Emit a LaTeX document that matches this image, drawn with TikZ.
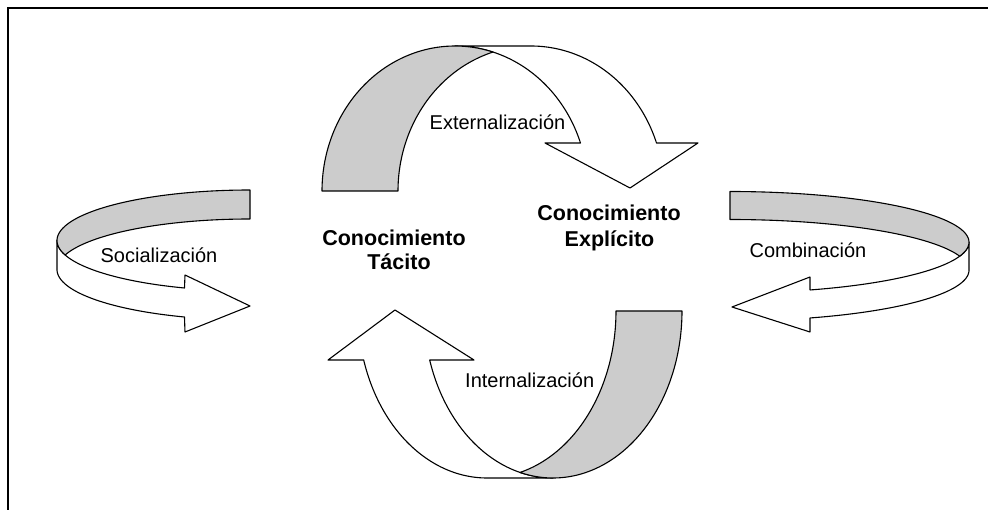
\documentclass[tikz,border=0pt]{standalone}
\usepackage{fontspec}
\setmainfont{Liberation Sans}
\definecolor{ribgray}{RGB}{204,204,204}
\tikzset{
  rib/.style={draw=black, line width=1.1pt, line join=round},
  back/.style={rib, fill=ribgray},
  front/.style={rib, fill=white},
  lbl/.style={font=\fontsize{20}{24}\selectfont, inner sep=0pt, anchor=base},
  bld/.style={font=\bfseries\fontsize{21.5}{24}\selectfont, inner sep=0pt, anchor=base},
  frame/.style={draw=black, line width=2pt},
}
\begin{document}
\begin{tikzpicture}[x=1pt, y=-1pt]
\useasboundingbox (0,0) rectangle (988,510);
% frame
\coordinate (fr1) at (988,8);
\coordinate (fr2) at (8,8);
\coordinate (fr3) at (8,510);
\draw[frame] (fr1) -- (fr2) -- (fr3);

% top ribbon: Externalizacion
\draw[front] (630,188) -- (545,143) -- (580.5,143)
  -- plot[domain=340.67:270, samples=60, variable=\t] ({455+133*cos(\t)},{191+145*sin(\t)})
  -- (531,46)
  -- plot[domain=270:340.67, samples=60, variable=\t] ({531+133*cos(\t)},{191+145*sin(\t)})
  -- (698,143) -- cycle;
\draw[back] plot[domain=180:286.6, samples=80, variable=\t] ({455+133*cos(\t)},{191+145*sin(\t)})
  -- plot[domain=253.4:180, samples=60, variable=\t] ({531+133*cos(\t)},{191+145*sin(\t)}) -- cycle;

% bottom ribbon: Internalizacion
\draw[front] (395,310) -- (474,360) -- (429.7,360)
  -- plot[domain=162.94:90, samples=60, variable=\t] ({553+129*cos(\t)},{311+167*sin(\t)})
  -- (487,478)
  -- plot[domain=90:162.94, samples=60, variable=\t] ({487+129*cos(\t)},{311+167*sin(\t)})
  -- (328,360) -- cycle;
\draw[back] plot[domain=0:104.82, samples=80, variable=\t] ({553+129*cos(\t)},{311+167*sin(\t)})
  -- plot[domain=75.18:0, samples=60, variable=\t] ({487+129*cos(\t)},{311+167*sin(\t)}) -- cycle;

% left ribbon: Socializacion
\draw[front] (250,306) -- (185,275) -- (184.5,288)
  -- plot[domain=109.85:180, samples=60, variable=\t] ({250+193*cos(\t)},{240.5+50.5*sin(\t)})
  -- (57,269.5)
  -- plot[domain=180:109.85, samples=60, variable=\t] ({250+193*cos(\t)},{269.5+50.5*sin(\t)})
  -- (185,332) -- cycle;
\draw[back] plot[domain=270:163.31, samples=80, variable=\t] ({250+193*cos(\t)},{240.5+50.5*sin(\t)})
  -- plot[domain=196.69:270, samples=60, variable=\t] ({250+193*cos(\t)},{269.5+50.5*sin(\t)}) -- cycle;

% right ribbon: Combinacion
\draw[front] (732,307) -- (810,277) -- (810,290)
  -- plot[domain=70.45:0, samples=60, variable=\t] ({730+239*cos(\t)},{242.2+50.7*sin(\t)})
  -- (969,270.2)
  -- plot[domain=0:70.45, samples=60, variable=\t] ({730+239*cos(\t)},{270.2+50.7*sin(\t)})
  -- (810,332) -- cycle;
\draw[back] plot[domain=270:376.03, samples=80, variable=\t] ({730+239*cos(\t)},{242.2+50.7*sin(\t)})
  -- plot[domain=343.97:270, samples=60, variable=\t] ({730+239*cos(\t)},{270.2+50.7*sin(\t)}) -- cycle;

% labels
\node[lbl] (ext) at (497.5,130) {Externalización};
\node[lbl] (int) at (529.7,388) {Internalización};
\node[lbl] (soc) at (159,263) {Socialización};
\node[lbl] (comb) at (808,258) {Combinación};
\node[bld] (tac1) at (394,246) {Conocimiento};
\node[bld] (tac2) at (399,270) {Tácito};
\node[bld] (exp1) at (609,221) {Conocimiento};
\node[bld] (exp2) at (609.5,247) {Explícito};
\end{tikzpicture}
\end{document}
